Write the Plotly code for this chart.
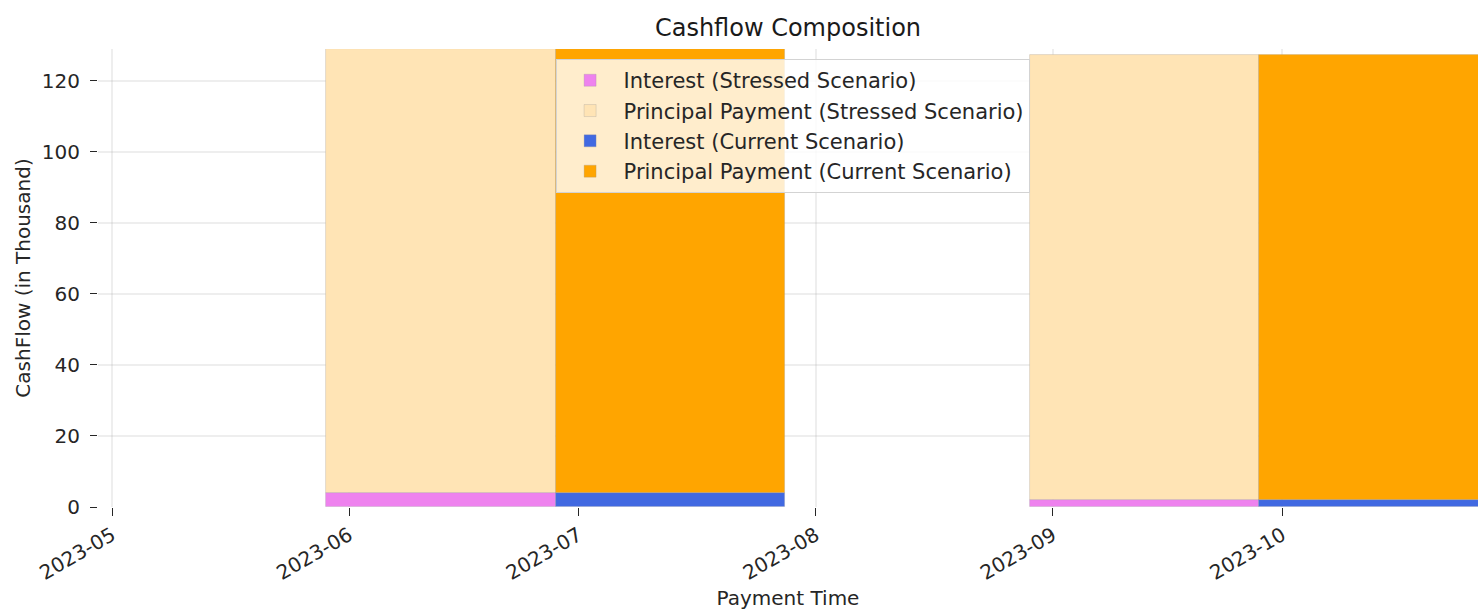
import plotly.graph_objects as go

# ---- data ----
payment_dates = ["2023-06-28", "2023-09-28"]
interest_stressed = [3.9, 2.1]
principal_stressed = [125.0, 125.1]
interest_current = [3.9, 2.1]
principal_current = [125.0, 125.1]
tick_dates = ["2023-05-01", "2023-06-01", "2023-07-01", "2023-08-01", "2023-09-01", "2023-10-01"]
tick_labels = ["2023-05", "2023-06", "2023-07", "2023-08", "2023-09", "2023-10"]

DAY_MS = 86400000
bar_width = 30 * DAY_MS
edge = dict(color="rgba(150,150,150,0.35)", width=0.8)

fig = go.Figure()
# stressed: bar ends at payment date
fig.add_trace(go.Bar(x=payment_dates, y=interest_stressed, base=[0] * len(payment_dates),
                     width=[bar_width] * len(payment_dates), offset=-bar_width,
                     marker=dict(color="violet", line=edge),
                     name="Interest (Stressed Scenario)"))
fig.add_trace(go.Bar(x=payment_dates, y=principal_stressed, base=interest_stressed,
                     width=[bar_width] * len(payment_dates), offset=-bar_width,
                     marker=dict(color="moccasin", line=edge),
                     name="Principal Payment (Stressed Scenario)"))
# current: bar starts at payment date
fig.add_trace(go.Bar(x=payment_dates, y=interest_current, base=[0] * len(payment_dates),
                     width=[bar_width] * len(payment_dates), offset=0,
                     marker=dict(color="royalblue", line=edge),
                     name="Interest (Current Scenario)"))
fig.add_trace(go.Bar(x=payment_dates, y=principal_current, base=interest_current,
                     width=[bar_width] * len(payment_dates), offset=0,
                     marker=dict(color="orange", line=edge),
                     name="Principal Payment (Current Scenario)"))

ymax = max(a + b for a, b in zip(interest_stressed, principal_stressed))

font_family = "DejaVu Sans"
fig.update_layout(
    width=1478, height=610,
    margin=dict(l=98, r=0, t=49, b=103),
    paper_bgcolor="white", plot_bgcolor="white",
    barmode="overlay",
    bargap=0,
    font=dict(family=font_family, size=20, color="#262626"),
    title=dict(text="Cashflow Composition", x=(98 + 1478) / 2 / 1478, xanchor="center",
               y=1 - 28 / 610, yanchor="middle", font=dict(size=24, color="#1a1a1a")),
    legend=dict(x=0.3316, y=0.978, xanchor="left", yanchor="top",
                traceorder="normal", bgcolor="rgba(255,255,255,0.8)",
                bordercolor="#d3d3d3", borderwidth=1,
                font=dict(size=21, color="#262626"), itemwidth=57, tracegroupgap=0),
    showlegend=True,
)
fig.update_xaxes(
    type="date", range=["2023-04-29 04:00", "2023-10-26 14:00"],
    tickmode="array", tickvals=tick_dates, ticktext=tick_labels, tickangle=-30,
    ticks="outside", ticklen=8, tickwidth=1.3, tickcolor="#262626",
    showgrid=True, gridcolor="rgba(170,170,170,0.2)", gridwidth=1.5,
    showline=False, zeroline=False, layer="above traces",
    tickfont=dict(size=20, color="#262626"),
    title=dict(text="Payment Time", font=dict(size=20, color="#262626"), standoff=7),
)
fig.update_yaxes(
    range=[0, ymax], tick0=0, dtick=20,
    ticks="outside", ticklen=7, tickwidth=1.3, tickcolor="#262626",
    showgrid=True, gridcolor="rgba(170,170,170,0.2)", gridwidth=1.5,
    showline=False, zeroline=False, layer="above traces",
    tickfont=dict(size=20, color="#262626"), ticklabelstandoff=6,
    title=dict(text="CashFlow (in Thousand)", font=dict(size=20, color="#262626"), standoff=5),
)

fig.write_html("out.html", config={"displayModeBar": False},
               post_script="document.body.style.margin='0';")
